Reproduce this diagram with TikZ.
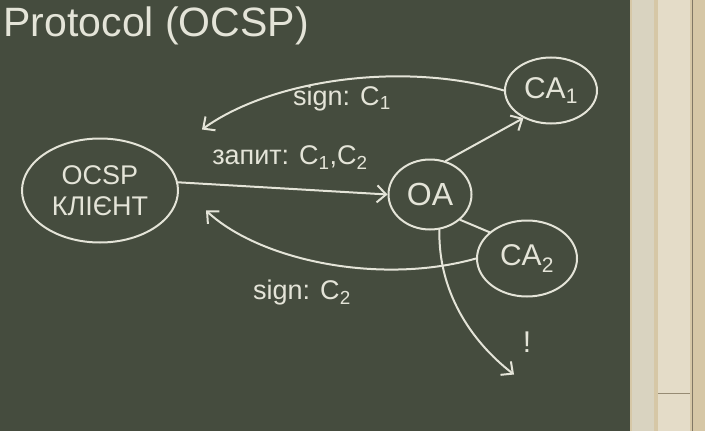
\documentclass[tikz,border=0pt]{standalone}
\usepackage{fontspec}
\setmainfont{Liberation Sans}
\usetikzlibrary{shapes.geometric,arrows.meta}

\definecolor{board}{HTML}{454C3E}
\definecolor{chalk}{HTML}{E4E4D8}
\definecolor{frame}{HTML}{D6C7A6}
\definecolor{lath}{HTML}{D9D3C0}
\definecolor{panel}{HTML}{E4DCC8}

\begin{document}
\begin{tikzpicture}[x=1pt, y=-1pt, >={Straight Barb[length=9pt,width=17pt]},
    ball/.style={ellipse, draw=chalk, line width=2pt, text=chalk, inner sep=2pt, align=center},
    lbl/.style={text=chalk, font=\fontsize{27}{29}\selectfont},
    wire/.style={draw=chalk, line width=2pt, line cap=round}]
        % board and the frame on the right
        \fill[board] (0,0) rectangle (630,430);
        \fill[frame] (630,0) rectangle (705,430);
        \fill[lath] (632,0) rectangle (654,430);
        \fill[panel] (658,0) rectangle (690,430);
        \draw[black!40!frame, line width=1pt] (692,0) -- (692,430);
        \draw[black!30!frame, line width=1pt] (658,393) -- (690,393);
        \useasboundingbox (0,0) rectangle (705,430);

        \node[text=chalk, anchor=west, font=\fontsize{41}{44}\selectfont] (title) at (0,25) {Protocol (OCSP)};

        \node[ball, minimum width=156pt, minimum height=104pt, font=\fontsize{27}{31}\selectfont] (client) at (100,190) {OCSP\\КЛІЄНТ};
        \node[ball, minimum width=83pt, minimum height=70pt, font=\fontsize{32}{34}\selectfont] (oa) at (430,194) {OA};
        \node[ball, minimum width=92pt, minimum height=66pt, font=\fontsize{30}{32}\selectfont] (ca1) at (551,90) {CA\textsubscript{1}};
        \node[ball, minimum width=100pt, minimum height=76pt, font=\fontsize{30}{32}\selectfont] (ca2) at (527,258) {CA\textsubscript{2}};

        \coordinate (tip1) at (202,129);
        \coordinate (tip2) at (206,210);
        \coordinate (down) at (514,374);

        \node[lbl] (req) at (290,157) {запит: C\textsubscript{1},C\textsubscript{2}};
        \node[lbl] (sig1) at (342,98) {sign: C\textsubscript{1}};
        \node[lbl] (sig2) at (302,292) {sign: C\textsubscript{2}};
        \node[text=chalk, font=\fontsize{30}{32}\selectfont] (bang) at (527,342) {!};

        \draw[wire, ->] (client.6) -- (oa.west);
        \draw[wire, ->] (ca1.west) .. controls (400,60) and (270,80) .. (tip1);
        \draw[wire, ->] (oa.65) -- (ca1.225);
        \draw[wire] (oa.-40) -- (ca2.145);
        \draw[wire, ->] (ca2.west) .. controls (380,285) and (260,260) .. (tip2);
        \draw[wire, ->] (oa.-75) .. controls (438,290) and (470,340) .. (down);

    \end{tikzpicture}
\end{document}
